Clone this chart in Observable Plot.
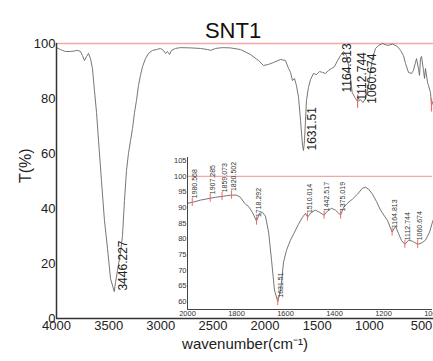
<!DOCTYPE html>
<html><head><meta charset="utf-8">
<script src="https://cdn.jsdelivr.net/npm/d3@7"></script>
<script src="https://cdn.jsdelivr.net/npm/@observablehq/plot@0.6"></script>
<style>
html,body{margin:0;padding:0;background:#fff;overflow:hidden}
#wrap{position:relative;width:433px;height:361px;overflow:hidden;font-family:"Liberation Sans",Arial,sans-serif}
#wrap svg{position:absolute}
</style></head><body><div id="wrap"></div>
<script>
// ---- main spectrum (wavenumber cm-1, transmittance %) ----
const mainWavenumber = [4000,3962,3914,3866,3827,3799,3770,3751,3732,3712,3693,3674,3655,3636,3616,3597,3569,3540,3511,3482,3446.227,3434,3415,3386,3367,3348,3329,3310,3290,3271,3252,3233,3214,3195,3175,3147,3118,3079,3041,3003,2974,2955,2936,2916,2897,2859,2811,2715,2619,2552,2523,2475,2408,2332,2236,2140,2063,2015,1967,1919,1852,1804,1775,1756,1737,1718,1699,1679,1660,1641,1631.51,1622,1603,1584,1564,1536,1507,1478,1449,1421,1392,1363,1334,1305,1277,1248,1219,1190,1164.813,1133,1112.744,1085,1060.674,1037,1008,989,970,941,912,874,826,778,730,701,673,653,625,596,577,558,548,529,519,510,500,481,471,462,442,433,414,404,385];
const mainTransmittance = [98.5,97.8,97.1,97.1,97.3,97.5,97.1,95.6,93.8,95.3,96.4,94.5,90.9,82.9,74.9,64.7,50.2,35.6,25.5,14.5,9.8,13.1,17.5,24.0,30.2,42.9,53.8,60.0,64.7,69.1,74.9,79.3,84.7,88.4,91.6,94.5,96.4,97.5,97.8,98.2,97.5,96.4,97.1,96.0,97.5,98.2,98.5,98.4,98.2,97.8,97.5,98.2,98.5,98.4,97.8,96.0,93.8,92.0,92.4,93.1,94.2,93.8,90.9,89.5,86.5,87.3,84.7,80.4,72.0,62.9,61.1,64.7,79.3,84.0,86.9,89.1,88.7,89.8,89.5,89.1,90.2,90.9,91.6,93.8,95.6,97.1,95.6,90.2,82.2,80.0,78.9,79.6,78.5,80.0,84.7,90.2,94.5,98.2,99.3,100,99.3,99.8,98.9,97.5,95.6,92.7,89.5,89.1,90.2,93.1,94.5,90.9,88.4,94.5,95.3,90.2,87.3,90.9,85.8,84.7,82.2,77.5,79.3];

// main-chart peak annotations
const mainPeakLabel = ["3446.227","1631.51","1164.813","1112.744","1060.674"];
const mainPeakWavenumber = [3446.227,1631.51,1164.813,1112.744,1060.674];
const mainPeakT = [9.8,61.1,82.2,78.9,78.5];
const mainMarkWavenumber = [1112.744,404];
const mainMarkT = [78.9,77.5];

// ---- inset (2000-1000 cm-1) ----
const insetWavenumber = [2000,1980.568,1947,1907.285,1886,1859.073,1820.502,1800,1784,1767,1751,1735,1718.292,1706,1694,1682,1669,1657,1645,1631.51,1620,1608,1596,1580,1563,1547,1531,1518,1510.014,1494,1478,1461,1442.517,1429,1412,1396,1375.019,1363,1347,1327,1306,1286,1273,1261,1245,1229,1212,1196,1184,1164.813,1151,1139,1127,1112.744,1098,1082,1060.674,1045,1029,1012,1000,990];
const insetTransmittance = [91.4,91.7,92.4,93.0,93.3,93.6,94.0,94.0,93.3,91.4,90.4,88.5,85.7,88.2,88.5,87.3,82.2,73.2,63.7,60.0,63.7,72.6,76.4,79.6,82.2,84.7,86.9,88.2,87.0,88.5,89.2,88.5,87.6,88.9,89.8,89.2,87.6,90.1,91.4,92.7,94.3,96.2,96.5,95.9,94.3,92.0,89.2,87.3,86.0,82.2,84.1,81.8,79.6,78.3,79.6,79.3,78.3,78.7,79.6,82.2,85.4,87.6];

const insetPeakLabel = ["1980.568","1907.285","1859.073","1820.502","1718.292","1631.51","1510.014","1442.517","1375.019","1164.813","1112.744","1060.674"];
const insetPeakWavenumber = [1980.568,1907.285,1859.073,1820.502,1718.292,1631.51,1510.014,1442.517,1375.019,1164.813,1112.744,1060.674];
const insetPeakT = [91.7,93.0,93.6,94.0,85.7,60.0,87.0,87.6,87.6,82.2,78.3,78.3];

// ---- axes ----
const mainXTicks = [4000,3500,3000,2500,2000,1500,1000,500];
const mainYTicks = [0,20,40,60,80,100];
const insetXTicks = [2000,1800,1600,1400,1200,1000];
const insetYTicks = [60,65,70,75,80,85,90,95,100,105];
const titleText = "SNT1";
const xLabel = "wavenumber(cm\u207B\u00B9)";
const yLabel = "T(%)";

const mainData = mainWavenumber.map((w,i)=>({w, t: mainTransmittance[i]}));
const mainPeaks = mainPeakWavenumber.map((w,i)=>({w, t: mainPeakT[i], label: mainPeakLabel[i]}));
const mainMarks = mainMarkWavenumber.map((w,i)=>({w, t: mainMarkT[i]}));
const insetData = insetWavenumber.map((w,i)=>({w, t: insetTransmittance[i]}));
const insetPeaks = insetPeakWavenumber.map((w,i)=>({w, t: insetPeakT[i], label: insetPeakLabel[i]}));

const FONT = "Liberation Sans, Arial, sans-serif";
const mainLabelOffsets = {"3446.227":[9,-1],"1631.51":[9,0],"1164.813":[-5,0],"1112.744":[5,-1],"1060.674":[9.5,1]};

const main = Plot.plot({
  width: 433, height: 361,
  marginLeft: 56, marginRight: 0, marginTop: 43, marginBottom: 43,
  style: {fontFamily: FONT, fontSize: "13px", background: "transparent", color: "#222"},
  x: {domain: [4000, 385], ticks: mainXTicks, tickSize: 0, tickPadding: 2, label: null, tickFormat: d => String(d)},
  y: {domain: [0, 100], ticks: mainYTicks, tickSize: 0, tickPadding: 1, label: null},
  marks: [
    Plot.ruleY([100], {stroke: "#f4a6a6", strokeWidth: 1.5}),
    Plot.line(mainData, {x: "w", y: "t", stroke: "#666", strokeWidth: 0.9}),
    Plot.ruleX(mainMarks, {x: "w", y1: d => d.t - 2.4, y2: d => d.t + 2.4, stroke: "#f06a6a", strokeWidth: 1.2}),
    ...mainPeaks.map(p => Plot.text([p], {x: "w", y: "t", text: "label", rotate: -90, textAnchor: "start",
      dx: mainLabelOffsets[p.label][0], dy: mainLabelOffsets[p.label][1], fontSize: 12, fill: "#222"})),
    Plot.ruleX([4000], {stroke: "#333", strokeWidth: 1.5}),
    Plot.ruleY([0], {stroke: "#333", strokeWidth: 1.5}),
    Plot.text([titleText], {frameAnchor: "top", dx: -12, dy: -21, fontSize: 22, fill: "#111"}),
    Plot.text([xLabel], {frameAnchor: "bottom", dy: 30, fontSize: 15, fill: "#222"}),
    Plot.text([yLabel], {frameAnchor: "left", dx: -31, dy: 2, rotate: -90, fontSize: 16, fill: "#222"})
  ]
});
main.style.left = "0px"; main.style.top = "0px";

const inset = Plot.plot({
  width: 300, height: 175,
  marginLeft: 37, marginRight: 18, marginTop: 7, marginBottom: 16,
  style: {fontFamily: FONT, fontSize: "7.5px", background: "transparent", color: "#333"},
  x: {domain: [2000, 1000], ticks: insetXTicks, tickSize: 0, tickPadding: 1, label: null, tickFormat: d => String(d)},
  y: {domain: [57.5, 106], ticks: insetYTicks, tickSize: 0, tickPadding: 1, label: null},
  marks: [
    Plot.ruleY([100], {stroke: "#f4a6a6", strokeWidth: 1.2}),
    Plot.line(insetData, {x: "w", y: "t", stroke: "#666", strokeWidth: 0.9}),
    Plot.ruleX(insetPeaks, {x: "w", y1: d => d.t - 1.3, y2: d => d.t + 1.3, stroke: "#f06a6a", strokeWidth: 1}),
    Plot.text(insetPeaks, {x: "w", y: "t", text: "label", rotate: -90, textAnchor: "start", dx: 2.5, dy: -4, fontSize: 7, fill: "#333"}),
    Plot.ruleX([2000], {stroke: "#444", strokeWidth: 1}),
    Plot.ruleY([57.5], {stroke: "#444", strokeWidth: 1})
  ]
});
inset.style.left = "150px"; inset.style.top = "150px";

const wrap = document.getElementById("wrap");
wrap.appendChild(main);
wrap.appendChild(inset);
</script></body></html>
